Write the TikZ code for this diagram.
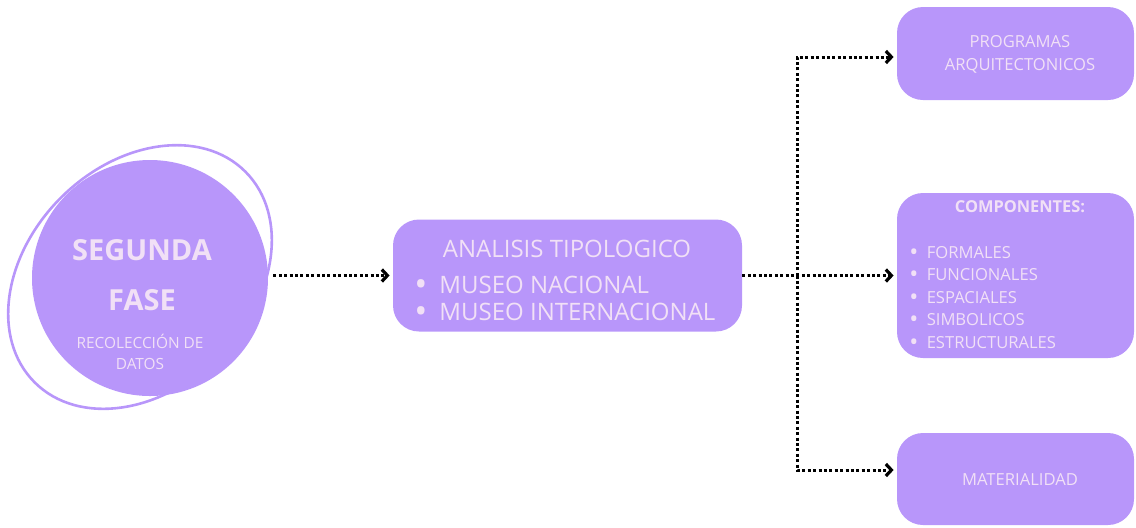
\documentclass[tikz,border=0pt]{standalone}
\usepackage{fontspec}
\setmainfont{Open Sans}
\usetikzlibrary{shapes.geometric, arrows.meta, positioning, calc}
\definecolor{lila}{HTML}{B896FA}
\definecolor{lilatexto}{HTML}{F1E0F6}
\newcommand{\punto}{\raisebox{-0.12em}[0pt][0pt]{\scalebox{1.45}{\textbullet}}}

\begin{document}
\begin{tikzpicture}[
    x=0.5pt, y=-0.5pt,
    fase ring/.style={
        ellipse,
        draw=lila,
        line width=1.3pt,
        minimum width=149pt,
        minimum height=112pt,
        inner sep=0pt,
        rotate=45,
    },
    fase circle/.style={
        circle,
        fill=lila,
        minimum size=118pt,
        inner sep=0pt,
    },
    caja/.style={
        rectangle,
        rounded corners=13pt,
        fill=lila,
        inner sep=0pt,
    },
    texto/.style={text=lilatexto, inner sep=0pt, anchor=base},
    enlace/.style={
        line width=1.5pt,
        dash pattern=on 1.5pt off 1.2pt,
        -{Straight Barb[length=2.8pt,width=6pt,line width=1.6pt]},
    }
]
\useasboundingbox (0,0) rectangle (1136,527);

\node[fase ring] (anillo) at (140,277) {};
\node[fase circle] (fase) at (150,278) {};
\node[texto, font=\bfseries\fontsize{14.5}{16}\selectfont] (segunda) at (142,260) {SEGUNDA};
\node[texto, font=\bfseries\fontsize{14.5}{16}\selectfont] (fasetit) at (142,310) {FASE};
\node[texto, font=\fontsize{7.7}{9}\selectfont] (recoleccion) at (140,348) {RECOLECCIÓN DE};
\node[texto, font=\fontsize{7.7}{9}\selectfont] (datos) at (140,369) {DATOS};

\node[caja, minimum width=174.5pt, minimum height=56pt] (analisis) at (567.5,275.5) {};
\node[texto, font=\fontsize{12}{14}\selectfont] (analisistit) at (567,257.5) {ANALISIS TIPOLOGICO};
\node[texto, anchor=base west, font=\fontsize{12}{14}\selectfont] (nacional) at (414,293.5) {\punto\enspace MUSEO NACIONAL};
\node[texto, anchor=base west, font=\fontsize{12}{14}\selectfont] (internacional) at (414,320.5) {\punto\enspace MUSEO INTERNACIONAL};

\node[caja, minimum width=118.5pt, minimum height=46.5pt] (programas) at (1015.5,53.5) {};
\node[texto, font=\fontsize{8.3}{10}\selectfont] (programastit) at (1020,47) {PROGRAMAS};
\node[texto, font=\fontsize{8.3}{10}\selectfont] (arquitectonicos) at (1020,70) {ARQUITECTONICOS};

\node[caja, minimum width=118.5pt, minimum height=82.5pt] (componentes) at (1015.5,275.5) {};
\node[texto, font=\bfseries\fontsize{8.2}{10}\selectfont] (componentestit) at (1020,212.5) {COMPONENTES:};
\foreach \comp [count=\i] in {FORMALES, FUNCIONALES, ESPACIALES, SIMBOLICOS, ESTRUCTURALES}
    \node[texto, anchor=base west, font=\fontsize{8.3}{10}\selectfont] (comp-\i) at (909,{258+22.5*(\i-1)}) {\punto\enspace\comp};

\node[caja, minimum width=118.5pt, minimum height=46pt] (materialidad) at (1015.5,479) {};
\node[texto, font=\fontsize{8.3}{10}\selectfont] (materialidadtit) at (1020,485) {MATERIALIDAD};

\coordinate (reparto) at (797,275.5);
\draw[enlace, shorten <=2.5pt, shorten >=1.5pt] (fase.east |- analisis.west) -- (analisis.west);
\draw[enlace, shorten >=1.5pt] (analisis.east) -- (componentes.west);
\draw[enlace, shorten >=1.5pt] (reparto) |- ([yshift=-1.75pt]programas.west);
\draw[enlace, shorten >=1.5pt] (reparto) |- ([yshift=4.5pt]materialidad.west);
\end{tikzpicture}
\end{document}
